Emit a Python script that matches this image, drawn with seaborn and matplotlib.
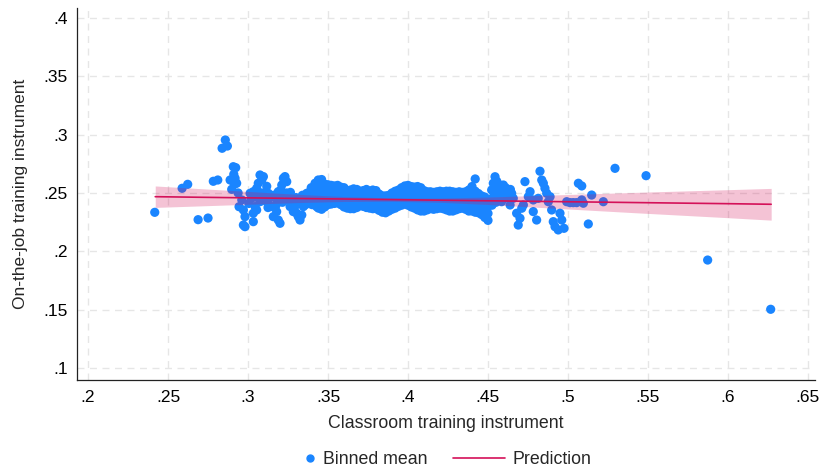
import matplotlib
matplotlib.use("Agg")
import matplotlib.pyplot as plt
from matplotlib.lines import Line2D
from matplotlib.ticker import FuncFormatter
import seaborn as sns
import pandas as pd

# ---- binned means: sparse left tail ----
left_x = [0.2417, 0.2588, 0.2623, 0.2688, 0.2750, 0.2783, 0.2811, 0.2858, 0.2871, 0.2838,
          0.2923, 0.2911, 0.2888, 0.2914, 0.2898, 0.2938, 0.2944, 0.2908, 0.2919, 0.2929]
left_y = [0.2334, 0.2540, 0.2574, 0.2271, 0.2285, 0.2600, 0.2611, 0.2954, 0.2902, 0.2883,
          0.2717, 0.2660, 0.2611, 0.2574, 0.2531, 0.2500, 0.2382, 0.2725, 0.2626, 0.2583]

# ---- binned means: rising into the dense band ----
mid_x = [0.2961, 0.2971, 0.2981, 0.2971, 0.2981, 0.3013, 0.3033, 0.3054, 0.3075, 0.3086,
         0.3096, 0.3064, 0.3044, 0.3033, 0.3054, 0.3075, 0.3033, 0.3117, 0.3127, 0.3096,
         0.3148, 0.3158, 0.3189, 0.3200, 0.3179, 0.3189, 0.3211, 0.3221, 0.3231, 0.3242,
         0.3221, 0.3252, 0.3263, 0.3283, 0.3304, 0.3314, 0.3325, 0.3336, 0.3346, 0.3356,
         0.3367, 0.3388, 0.3408, 0.3419, 0.3429, 0.3439, 0.3419,
         0.3005, 0.3020, 0.3060, 0.3085, 0.3100, 0.3120, 0.3140, 0.3160, 0.3180, 0.3200,
         0.3215, 0.3240, 0.3260, 0.3280, 0.3300, 0.3320, 0.3340, 0.3360, 0.3380, 0.3400,
         0.3415, 0.3205, 0.3175, 0.3125, 0.3265, 0.3290, 0.3395]
mid_y = [0.2440, 0.2354, 0.2297, 0.2225, 0.2211, 0.2497, 0.2511, 0.2540, 0.2654, 0.2611,
         0.2640, 0.2583, 0.2383, 0.2326, 0.2354, 0.2425, 0.2254, 0.2557, 0.2497, 0.2483,
         0.2383, 0.2297, 0.2268, 0.2240, 0.2340, 0.2511, 0.2568, 0.2626, 0.2640, 0.2597,
         0.2497, 0.2440, 0.2383, 0.2340, 0.2326, 0.2297, 0.2268, 0.2311, 0.2383, 0.2440,
         0.2497, 0.2511, 0.2497, 0.2440, 0.2383, 0.2611, 0.2583,
         0.2410, 0.2450, 0.2460, 0.2500, 0.2440, 0.2420, 0.2460, 0.2480, 0.2440, 0.2460,
         0.2420, 0.2500, 0.2480, 0.2440, 0.2460, 0.2420, 0.2480, 0.2400, 0.2440, 0.2400,
         0.2480, 0.2525, 0.2395, 0.2375, 0.2505, 0.2375, 0.2545]

# ---- binned means: dense band, grouped by bin position ----
band_pos = [0.344, 0.346, 0.348, 0.350, 0.352, 0.354, 0.356, 0.358, 0.360, 0.362,
            0.364, 0.366, 0.368, 0.370, 0.372, 0.374, 0.376, 0.378, 0.380, 0.382,
            0.384, 0.386, 0.388, 0.390, 0.392, 0.394, 0.396, 0.398, 0.400, 0.402,
            0.404, 0.406, 0.408, 0.410, 0.412, 0.414, 0.416, 0.418, 0.420, 0.422,
            0.424, 0.426, 0.428, 0.430, 0.432, 0.434, 0.436, 0.438, 0.440, 0.442,
            0.444, 0.446, 0.448, 0.450]
band_means = [
    [0.2370, 0.2430, 0.2490, 0.2550, 0.2600],
    [0.2360, 0.2420, 0.2480, 0.2540, 0.2615],
    [0.2380, 0.2440, 0.2500, 0.2575],
    [0.2400, 0.2460, 0.2520, 0.2570],
    [0.2405, 0.2465, 0.2520, 0.2565],
    [0.2410, 0.2470, 0.2525, 0.2560],
    [0.2415, 0.2470, 0.2520, 0.2565],
    [0.2400, 0.2460, 0.2510, 0.2550],
    [0.2380, 0.2440, 0.2495, 0.2545],
    [0.2370, 0.2430, 0.2475, 0.2510],
    [0.2365, 0.2425, 0.2480, 0.2525],
    [0.2365, 0.2425, 0.2480, 0.2535],
    [0.2375, 0.2430, 0.2485, 0.2530],
    [0.2390, 0.2450, 0.2515],
    [0.2385, 0.2445, 0.2495, 0.2520],
    [0.2375, 0.2435, 0.2490, 0.2530],
    [0.2370, 0.2430, 0.2480, 0.2515],
    [0.2365, 0.2425, 0.2480, 0.2525],
    [0.2365, 0.2425, 0.2475, 0.2520],
    [0.2350, 0.2410, 0.2455, 0.2490],
    [0.2335, 0.2395, 0.2445, 0.2475],
    [0.2330, 0.2390, 0.2445, 0.2475],
    [0.2345, 0.2405, 0.2450, 0.2480],
    [0.2360, 0.2420, 0.2465, 0.2500],
    [0.2370, 0.2430, 0.2480, 0.2515],
    [0.2385, 0.2445, 0.2490, 0.2525],
    [0.2395, 0.2455, 0.2505, 0.2545],
    [0.2405, 0.2465, 0.2515, 0.2560],
    [0.2395, 0.2455, 0.2515, 0.2565],
    [0.2380, 0.2440, 0.2500, 0.2555],
    [0.2370, 0.2430, 0.2490, 0.2550],
    [0.2355, 0.2415, 0.2475, 0.2525, 0.2555],
    [0.2345, 0.2405, 0.2465, 0.2515, 0.2545],
    [0.2345, 0.2405, 0.2460, 0.2520],
    [0.2355, 0.2415, 0.2470, 0.2510],
    [0.2365, 0.2425, 0.2475, 0.2510],
    [0.2360, 0.2420, 0.2470, 0.2505],
    [0.2365, 0.2425, 0.2475, 0.2510],
    [0.2370, 0.2430, 0.2480, 0.2515],
    [0.2365, 0.2425, 0.2475, 0.2510],
    [0.2355, 0.2415, 0.2470, 0.2515],
    [0.2345, 0.2405, 0.2465, 0.2515],
    [0.2345, 0.2405, 0.2460, 0.2510],
    [0.2355, 0.2415, 0.2465, 0.2505],
    [0.2365, 0.2425, 0.2475, 0.2510],
    [0.2370, 0.2430, 0.2475, 0.2505],
    [0.2360, 0.2420, 0.2470, 0.2510],
    [0.2345, 0.2405, 0.2465, 0.2525],
    [0.2345, 0.2405, 0.2465, 0.2525, 0.2555],
    [0.2335, 0.2395, 0.2455, 0.2515, 0.2620],
    [0.2330, 0.2390, 0.2450, 0.2495],
    [0.2315, 0.2375, 0.2435, 0.2475],
    [0.2290, 0.2350, 0.2410, 0.2465],
    [0.2265, 0.2325, 0.2385, 0.2445],
]

# ---- binned means: right side and outliers ----
right_x = [0.4523, 0.4533, 0.4544, 0.4544, 0.4530, 0.4550, 0.4525, 0.4564, 0.4560, 0.4555,
           0.4570, 0.4580, 0.4585, 0.4596, 0.4600, 0.4606, 0.4610, 0.4620, 0.4627, 0.4638,
           0.4640, 0.4648, 0.4658, 0.4679, 0.4689, 0.4700, 0.4711, 0.4721, 0.4731, 0.4752,
           0.4763, 0.4783, 0.4783, 0.4804, 0.4814, 0.4825, 0.4836, 0.4846, 0.4856, 0.4867,
           0.4877, 0.4888, 0.4898, 0.4908, 0.4919, 0.4939, 0.4950, 0.4961, 0.4975, 0.4992,
           0.5013, 0.5033, 0.5054, 0.5065, 0.5086, 0.5086, 0.5096, 0.5127, 0.5148, 0.5221,
           0.5294, 0.5488, 0.5873, 0.6267]
right_y = [0.2525, 0.2583, 0.2639, 0.2497, 0.2460, 0.2420, 0.2395, 0.2454, 0.2520, 0.2600,
           0.2570, 0.2480, 0.2425, 0.2568, 0.2500, 0.2525, 0.2545, 0.2460, 0.2525, 0.2397,
           0.2530, 0.2497, 0.2454, 0.2326, 0.2225, 0.2283, 0.2369, 0.2397, 0.2597, 0.2468,
           0.2511, 0.2440, 0.2340, 0.2268, 0.2454, 0.2686, 0.2611, 0.2583, 0.2540, 0.2497,
           0.2425, 0.2468, 0.2354, 0.2254, 0.2211, 0.2183, 0.2326, 0.2268, 0.2197, 0.2425,
           0.2417, 0.2417, 0.2417, 0.2583, 0.2560, 0.2440, 0.2412, 0.2234, 0.2482, 0.2425,
           0.2711, 0.2648, 0.1925, 0.1503]

# ---- linear prediction and its confidence band ----
fit_x  = [0.242, 0.27, 0.30, 0.33, 0.36, 0.39, 0.42, 0.45, 0.48, 0.51, 0.54, 0.57, 0.60, 0.627]
fit_y  = [0.2468, 0.2463, 0.2458, 0.2453, 0.2448, 0.2443, 0.2438, 0.2433, 0.2428, 0.2423,
          0.2418, 0.2413, 0.2408, 0.2403]
fit_lo = [0.2376, 0.2389, 0.2403, 0.2417, 0.2427, 0.2429, 0.2420, 0.2401, 0.2378, 0.2355,
          0.2332, 0.2310, 0.2288, 0.2267]
fit_hi = [0.2560, 0.2537, 0.2513, 0.2489, 0.2469, 0.2457, 0.2456, 0.2465, 0.2478, 0.2491,
          0.2504, 0.2516, 0.2528, 0.2539]

x_ticks = [0.2, 0.25, 0.3, 0.35, 0.4, 0.45, 0.5, 0.55, 0.6, 0.65]
y_ticks = [0.1, 0.15, 0.2, 0.25, 0.3, 0.35, 0.4]

BLUE = "#1a85ff"
RED = "#d41159"

band_x = [p for p, vals in zip(band_pos, band_means) for _ in vals]
band_y = [v for vals in band_means for v in vals]
bins = pd.DataFrame({
    "x": left_x + mid_x + band_x + right_x,
    "y": left_y + mid_y + band_y + right_y,
})
fit = pd.DataFrame({"x": fit_x, "y": fit_y})

sns.set_style("white")
plt.rcParams["font.family"] = ["Liberation Sans", "DejaVu Sans"]

fig = plt.figure(figsize=(8.21, 4.71), dpi=100)
ax = fig.add_axes([77 / 821, 91 / 471, 738 / 821, 372 / 471])

sns.scatterplot(data=bins, x="x", y="y", ax=ax, color=BLUE, s=44,
                linewidth=0, edgecolor="none", zorder=3, legend=False)
ax.fill_between(fit_x, fit_lo, fit_hi, color=RED, alpha=0.25, linewidth=0, zorder=4)
sns.lineplot(data=fit, x="x", y="y", ax=ax, color=RED, linewidth=1.2, zorder=5,
             legend=False)

ax.set_xlim(0.1931, 0.6544)
ax.set_ylim(0.0897, 0.4085)
ax.set_xticks(x_ticks)
ax.set_yticks(y_ticks)
fmt = FuncFormatter(lambda v, _: f"{v:g}".lstrip("0"))
ax.xaxis.set_major_formatter(fmt)
ax.yaxis.set_major_formatter(fmt)

ax.grid(True, color="#e6e6e6", linestyle=(0, (5, 4)), linewidth=1.0, zorder=0)
ax.set_axisbelow(True)
for side in ("top", "right"):
    ax.spines[side].set_visible(False)
for side in ("left", "bottom"):
    ax.spines[side].set_color("#222222")
    ax.spines[side].set_linewidth(0.9)

ax.tick_params(axis="both", which="major", direction="out", length=4.5, width=0.8,
               color="#222222", labelsize=12.5, labelcolor="black")
ax.tick_params(axis="x", pad=3)
ax.tick_params(axis="y", pad=2)

ax.set_xlabel("Classroom training instrument", fontsize=12.8, labelpad=7)
ax.set_ylabel("On-the-job training instrument", fontsize=12.5, labelpad=11)

dot = Line2D([], [], marker="o", linestyle="none", color=BLUE, markersize=5)
line = Line2D([], [], color=RED, linewidth=1.2)
leg1 = fig.legend([dot], ["Binned mean"], loc="center left",
                  bbox_to_anchor=(303 / 821, 11 / 471), frameon=False, fontsize=12.8,
                  handlelength=0.8, handletextpad=0.3, borderpad=0, borderaxespad=0)
leg2 = fig.legend([line], ["Prediction"], loc="center left",
                  bbox_to_anchor=(453 / 821, 11 / 471), frameon=False, fontsize=12.8,
                  handlelength=2.95, handletextpad=0.4, borderpad=0, borderaxespad=0)

fig.savefig("out.png", dpi=100)
